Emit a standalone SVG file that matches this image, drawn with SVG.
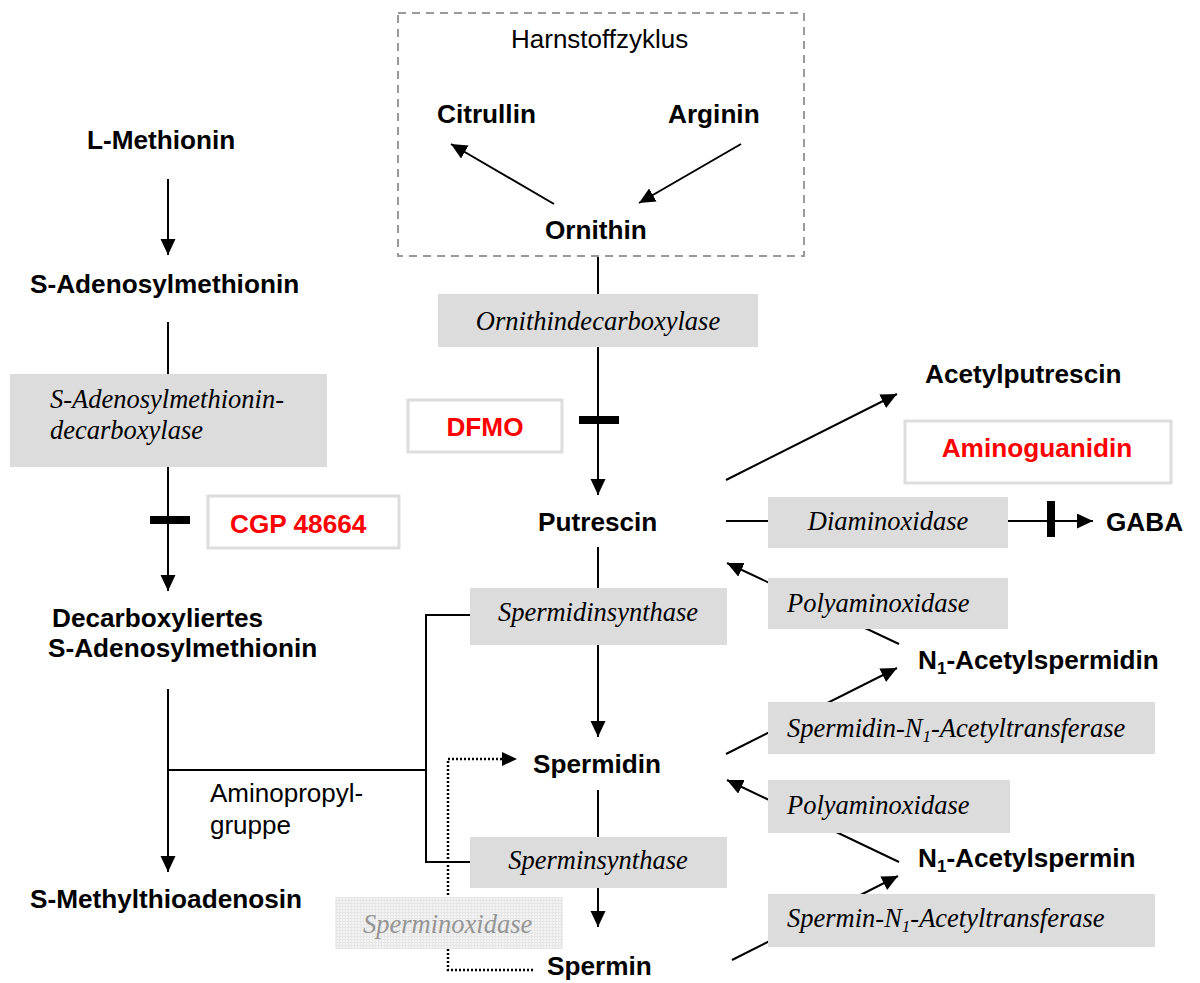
<svg xmlns="http://www.w3.org/2000/svg" width="1200" height="983" viewBox="0 0 1200 983">
<style>
.lbl{font-family:"Liberation Sans",Arial,sans-serif;font-weight:bold;font-size:26.2px;fill:#000}
.reg{font-family:"Liberation Sans",Arial,sans-serif;font-size:26px;fill:#000}
.inh{font-family:"Liberation Sans",Arial,sans-serif;font-weight:bold;font-size:26.2px;fill:#ff0000}
.enz{font-family:"Liberation Serif","Times New Roman",serif;font-style:italic;font-size:26.5px;fill:#000}
.ebox{fill:#dcdcdc;stroke:none}
.ibox{fill:#fff;stroke:#dddddd;stroke-width:3}
.ln{fill:none;stroke:#000;stroke-width:2}
.dot{fill:none;stroke:#000;stroke-width:2.5;stroke-dasharray:2 2}
.bar{fill:#000}
</style>
<defs>
<marker id="ah" markerUnits="userSpaceOnUse" markerWidth="17" markerHeight="16" refX="16" refY="7.5" orient="auto">
<path d="M0,0 L16,7.5 L0,15 z" fill="#000"/>
</marker>
<pattern id="grid" width="3" height="3" patternUnits="userSpaceOnUse">
<rect width="3" height="3" fill="#f3f3f3"/>
<path d="M0,0.5 H3 M0.5,0 V3" stroke="#e6e6e6" stroke-width="1"/>
</pattern>
</defs>

<g id="connectors">
<path class="ln" d="M554,204 L451,144" marker-end="url(#ah)"/>
<path class="ln" d="M741,144 L639,203" marker-end="url(#ah)"/>
<path class="ln" d="M598,256 V495" marker-end="url(#ah)"/>
<path class="ln" d="M168,179 V255" marker-end="url(#ah)"/>
<path class="ln" d="M168,322 V591" marker-end="url(#ah)"/>
<path class="ln" d="M168,689 V872" marker-end="url(#ah)"/>
<path class="ln" d="M168,770 H426"/>
<path class="ln" d="M470,615 H426 V862 H470"/>
<path class="ln" d="M598,547 V737" marker-end="url(#ah)"/>
<path class="ln" d="M598,790 V927" marker-end="url(#ah)"/>
<path class="ln" d="M726,480 L897,394" marker-end="url(#ah)"/>
<path class="ln" d="M726,521 H1093" marker-end="url(#ah)"/>
<path class="ln" d="M899,644 L727,563" marker-end="url(#ah)"/>
<path class="ln" d="M726,754 L897,668" marker-end="url(#ah)"/>
<path class="ln" d="M899,862 L727,780" marker-end="url(#ah)"/>
<path class="ln" d="M732,960 L898,876" marker-end="url(#ah)"/>
<path class="dot" d="M533,970 H448 V759 H505"/>
<path d="M502,752 L517,759 L502,766 z" fill="#000"/>
<rect class="bar" x="579" y="416" width="40" height="8"/>
<rect class="bar" x="150" y="516" width="40" height="8"/>
<rect class="bar" x="1047" y="501" width="8" height="36"/>
</g>

<g id="harnstoffzyklus">
<rect x="398" y="13" width="406" height="243" fill="none" stroke="#999" stroke-width="2" stroke-dasharray="8 6"/>
<text class="reg" x="511" y="48">Harnstoffzyklus</text>
</g>
<g id="citrullin"><text class="lbl" x="437" y="123">Citrullin</text></g>
<g id="arginin"><text class="lbl" x="668" y="123">Arginin</text></g>
<g id="ornithin"><text class="lbl" x="545" y="239">Ornithin</text></g>

<g id="l-methionin"><text class="lbl" x="87" y="149">L-Methionin</text></g>
<g id="sam"><text class="lbl" x="30" y="293">S-Adenosylmethionin</text></g>
<g id="samdc">
<rect class="ebox" x="10" y="374" width="317" height="93"/>
<text class="enz" x="50" y="408">S-Adenosylmethionin-</text>
<text class="enz" x="50" y="439">decarboxylase</text>
</g>
<g id="cgp">
<rect class="ibox" x="208" y="496" width="191" height="52"/>
<text class="inh" x="230" y="533">CGP 48664</text>
</g>
<g id="dcsam">
<text class="lbl" x="52" y="627">Decarboxyliertes</text>
<text class="lbl" x="48" y="657">S-Adenosylmethionin</text>
</g>
<g id="aminopropyl">
<text class="reg" x="210" y="802">Aminopropyl-</text>
<text class="reg" x="210" y="834">gruppe</text>
</g>
<g id="mta"><text class="lbl" x="30" y="908">S-Methylthioadenosin</text></g>

<g id="odc">
<rect class="ebox" x="438" y="294" width="320" height="53"/>
<text class="enz" x="598" y="330" text-anchor="middle">Ornithindecarboxylase</text>
</g>
<g id="dfmo">
<rect class="ibox" x="408" y="400" width="154" height="52"/>
<text class="inh" x="485" y="436" text-anchor="middle">DFMO</text>
</g>
<g id="putrescin"><text class="lbl" x="538" y="531">Putrescin</text></g>
<g id="spdsyn">
<rect class="ebox" x="470" y="588" width="257" height="57"/>
<text class="enz" x="598" y="621" text-anchor="middle">Spermidinsynthase</text>
</g>
<g id="spermidin"><text class="lbl" x="533" y="773">Spermidin</text></g>
<g id="spmsyn">
<rect class="ebox" x="470" y="837" width="257" height="51"/>
<text class="enz" x="598" y="869" text-anchor="middle">Sperminsynthase</text>
</g>
<g id="smo">
<rect x="335" y="897" width="228" height="52" fill="url(#grid)"/>
<text class="enz" x="363" y="933" style="fill:#959595">Sperminoxidase</text>
</g>
<g id="spermin"><text class="lbl" x="547" y="975">Spermin</text></g>

<g id="acetylputrescin"><text class="lbl" x="925" y="383">Acetylputrescin</text></g>
<g id="aminoguanidin">
<rect class="ibox" x="905" y="421" width="266" height="62"/>
<text class="inh" x="1037" y="457" text-anchor="middle">Aminoguanidin</text>
</g>
<g id="dao">
<rect class="ebox" x="768" y="497" width="240" height="51"/>
<text class="enz" x="888" y="530" text-anchor="middle">Diaminoxidase</text>
</g>
<g id="gaba"><text class="lbl" x="1106" y="531">GABA</text></g>
<g id="pao1">
<rect class="ebox" x="768" y="578" width="240" height="51"/>
<text class="enz" x="787" y="612">Polyaminoxidase</text>
</g>
<g id="n1-acetylspermidin"><text class="lbl" x="918" y="669">N<tspan font-size="17" dy="5">1</tspan><tspan dy="-5">-Acetylspermidin</tspan></text></g>
<g id="ssat1">
<rect class="ebox" x="768" y="702" width="387" height="52"/>
<text class="enz" x="787" y="737">Spermidin-N<tspan font-size="17" dy="5">1</tspan><tspan dy="-5">-Acetyltransferase</tspan></text>
</g>
<g id="pao2">
<rect class="ebox" x="768" y="780" width="242" height="53"/>
<text class="enz" x="787" y="814">Polyaminoxidase</text>
</g>
<g id="n1-acetylspermin"><text class="lbl" x="918" y="867">N<tspan font-size="17" dy="5">1</tspan><tspan dy="-5">-Acetylspermin</tspan></text></g>
<g id="ssat2">
<rect class="ebox" x="768" y="894" width="387" height="53"/>
<text class="enz" x="787" y="927">Spermin-N<tspan font-size="17" dy="5">1</tspan><tspan dy="-5">-Acetyltransferase</tspan></text>
</g>
</svg>
